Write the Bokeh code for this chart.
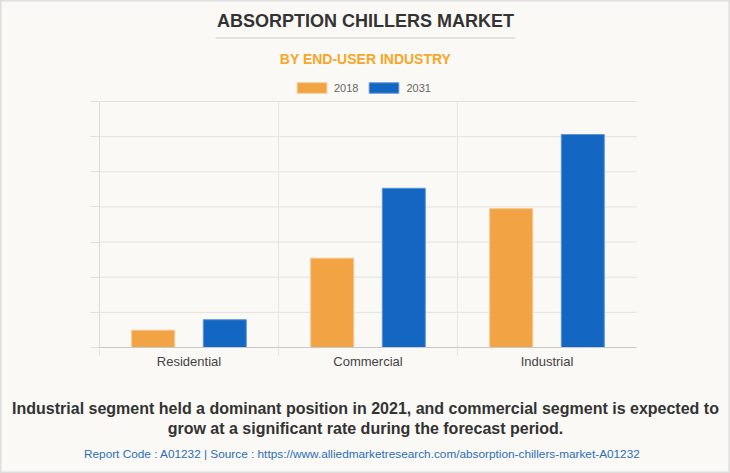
from bokeh.plotting import figure
from bokeh.models import (ColumnDataSource, FixedTicker, Label, Legend, LegendItem, Range1d,
                          BoxAnnotation)
from bokeh.embed import file_html
from bokeh.resources import INLINE

categories = ["Residential", "Commercial", "Industrial"]
years = ["2018", "2031"]
values_2018 = [0.49, 2.54, 3.95]
values_2031 = [0.79, 4.53, 6.06]
y_ticks = [0, 1, 2, 3, 4, 5, 6, 7]
colors = ["#f2a444", "#1366c1"]

title_text = "ABSORPTION CHILLERS MARKET"
subtitle_text = "BY END-USER INDUSTRY"
footer_lines = ["Industrial segment held a dominant position in 2021, and commercial segment is expected to",
                "grow at a significant rate during the forecast period."]
source_text = "Report Code : A01232  |  Source : https://www.alliedmarketresearch.com/absorption-chillers-market-A01232"

BG = "#faf9f5"
FONT = "Liberation Sans"
W, H = 730, 473
# plot area in pixels (left, right, top, bottom)
PL, PR, PT, PB = 99, 636, 101, 347

n = len(categories)
ymax = y_ticks[-1]
xu = (PR - PL) / n
yu = (PB - PT) / ymax
x_range = Range1d(-PL / xu, n + (W - PR) / xu)
y_range = Range1d(-(H - PB) / yu, ymax + PT / yu)

p = figure(width=W, height=H, output_backend="svg", toolbar_location=None,
           x_range=x_range, y_range=y_range, min_border=0,
           background_fill_color=BG, border_fill_color=BG,
           outline_line_color="#dedede", outline_line_width=2)
p.grid.visible = False

# grid lines of the plot area
p.segment(x0=0, x1=n, y0=y_ticks[1:], y1=y_ticks[1:], line_color="#e3e2de", line_width=1)
p.segment(x0=list(range(1, n)), x1=list(range(1, n)), y0=0, y1=ymax,
          line_color="#e6e5e1", line_width=1)

centers = [i + 0.5 for i in range(n)]
src18 = ColumnDataSource(dict(x=[c - 0.2 for c in centers], top=values_2018))
src31 = ColumnDataSource(dict(x=[c + 0.2 for c in centers], top=values_2031))
r18 = p.vbar(x="x", top="top", width=0.24, source=src18, fill_color=colors[0],
             line_color="#f6c58a", line_width=1)
r31 = p.vbar(x="x", top="top", width=0.24, source=src31, fill_color=colors[1],
             line_color="#5a92d4", line_width=1)

# axes fixed at the plot area
xa = p.xaxis[0]
xa.fixed_location = 0
xa.bounds = (0, n)
xa.ticker = FixedTicker(ticks=centers, minor_ticks=list(range(0, n)))
xa.major_label_overrides = {c: name for c, name in zip(centers, categories)}
xa.major_tick_line_color = None
xa.major_tick_out = 0
xa.major_tick_in = 0
xa.minor_tick_out = 8
xa.minor_tick_in = 0
xa.minor_tick_line_color = "#e3e2de"
xa.axis_line_color = "#c8c8c8"
xa.major_label_text_font = FONT
xa.major_label_text_font_size = "13px"
xa.major_label_text_color = "#444444"
xa.major_label_standoff = -2

ya = p.yaxis[0]
ya.fixed_location = 0
ya.bounds = (0, ymax)
ya.ticker = FixedTicker(ticks=y_ticks)
ya.major_label_text_font_size = "0px"
ya.major_label_text_color = None
ya.major_label_standoff = 0
ya.major_tick_out = 9
ya.major_tick_in = 0
ya.major_tick_line_color = "#e0dfdb"
ya.minor_tick_line_color = None
ya.axis_line_color = "#dcdbd7"

legend = Legend(items=[LegendItem(label=years[0], renderers=[r18]),
                       LegendItem(label=years[1], renderers=[r31])],
                orientation="horizontal", location=(293, H - 94),
                glyph_width=37, glyph_height=13, label_standoff=4, spacing=7,
                padding=0, margin=0, border_line_color=None, background_fill_alpha=0,
                label_text_font=FONT, label_text_font_size="11px",
                label_text_color="#666666", label_height=13)
p.add_layout(legend, "center")


def lab(text, x, y, size, color, style="normal"):
    p.add_layout(Label(x=x, y=H - y, x_units="screen", y_units="screen", text=text,
                       text_align="center", text_baseline="middle", text_font=FONT,
                       text_font_size=size, text_color=color, text_font_style=style))


lab(title_text, 365, 20.5, "18px", "#333333", "bold")
lab(subtitle_text, 365, 58.5, "14px", "#f6a628", "bold")
lab(footer_lines[0], 365, 408, "16px", "#333333", "bold")
lab(footer_lines[1], 365, 428, "16px", "#333333", "bold")
lab(source_text, 365, 453, "11.8px", "#2c6db8")

p.add_layout(BoxAnnotation(left=215, right=515, bottom=H - 38, top=H - 37,
                           left_units="screen", right_units="screen",
                           top_units="screen", bottom_units="screen",
                           fill_color="#cccccc", fill_alpha=1, line_color=None))

open("out.html", "w").write(file_html(p, INLINE))
